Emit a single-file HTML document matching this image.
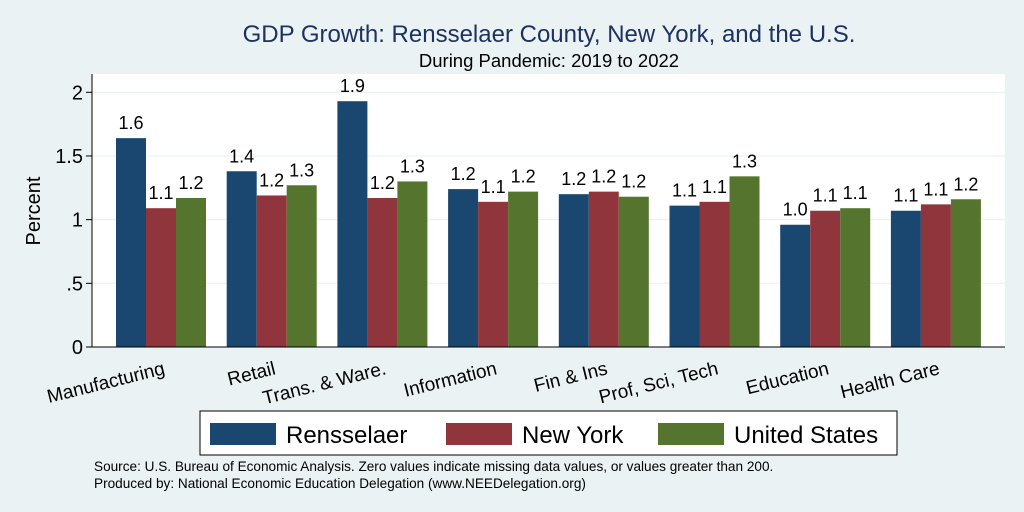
<!DOCTYPE html>
<html><head><meta charset="utf-8"><style>
body{margin:0;background:#eaf2f3;}
svg{display:block;font-family:"Liberation Sans",Arial,sans-serif;}
</style></head><body>
<svg id="c" width="1024" height="512" viewBox="0 0 1024 512">
<rect x="0" y="0" width="1024" height="512" fill="#eaf2f3"/>
<text x="549" y="42" font-size="24" fill="#1e3161" text-anchor="middle">GDP Growth: Rensselaer County, New York, and the U.S.</text>
<text x="549" y="67" font-size="18.5" fill="#000" text-anchor="middle">During Pandemic: 2019 to 2022</text>
<rect x="92" y="74" width="913" height="273" fill="#fff"/>
<g id="grid"></g><g id="bars"></g><g id="axis"></g>
<text transform="translate(40,211) rotate(-90)" font-size="20" text-anchor="middle">Percent</text>
<g>
<rect x="200" y="411" width="697" height="44" fill="#fff" stroke="#000" stroke-width="1"/>
<rect x="210" y="423" width="66" height="22" fill="#1a476f"/>
<text x="286" y="443" font-size="24">Rensselaer</text>
<rect x="446" y="423" width="66" height="22" fill="#90353b"/>
<text x="522" y="443" font-size="24">New York</text>
<rect x="658" y="423" width="66" height="22" fill="#55752f"/>
<text x="734" y="443" font-size="24">United States</text>
</g>
<text x="94" y="471" font-size="13.6">Source: U.S. Bureau of Economic Analysis. Zero values indicate missing data values, or values greater than 200.</text>
<text x="94" y="488" font-size="13.6">Produced by: National Economic Education Delegation (www.NEEDelegation.org)</text>
</svg>
<script>
const categories=["Manufacturing","Retail","Trans. & Ware.","Information","Fin & Ins","Prof, Sci, Tech","Education","Health Care"];
const rensselaer=[1.64,1.38,1.93,1.24,1.20,1.11,0.96,1.07];
const newYork=[1.09,1.19,1.17,1.14,1.22,1.14,1.07,1.12];
const unitedStates=[1.17,1.27,1.30,1.22,1.18,1.34,1.09,1.16];
const yTicks=[0,0.5,1,1.5,2];
const yTickLabels=["0",".5","1","1.5","2"];
const NS="http://www.w3.org/2000/svg";
const y0=347,pxPerUnit=127.35;
function yScale(v){return y0-v*pxPerUnit;}
const groupStart=116,groupStep=110.7,barW=30;
function xScale(i,s){return groupStart+i*groupStep+s*barW;}
function mk(tag,attrs,parent){const e=document.createElementNS(NS,tag);for(const k in attrs)e.setAttribute(k,attrs[k]);parent.appendChild(e);return e;}
const grid=document.getElementById('grid'),bars=document.getElementById('bars'),axis=document.getElementById('axis');
yTicks.forEach((t,i)=>{
  if(t>0){const g=mk('line',{x1:92,x2:1005,y1:yScale(t),y2:yScale(t),stroke:'#eaf2f3','stroke-width':1.2},grid);
  
  }
  const tk=mk('line',{x1:86,x2:92,y1:yScale(t),y2:yScale(t),stroke:'#000'},axis);
  
  
  const tl=mk('text',{x:83,y:yScale(t)+7,'font-size':20,'text-anchor':'end'},axis);
  tl.textContent=yTickLabels[i];
  
  
});
const series=[rensselaer,newYork,unitedStates],colors=["#1a476f","#90353b","#55752f"],snames=["rensselaer","new-york","united-states"];
categories.forEach((c,i)=>{
  series.forEach((arr,s)=>{
    const v=arr[i],x=xScale(i,s);
    const r=mk('rect',{x:x,y:yScale(v),width:barW,height:y0-yScale(v),fill:colors[s]},bars);
    
    
    const t=mk('text',{x:x+barW/2,y:yScale(v)-9,'font-size':18,'text-anchor':'middle'},bars);
    t.textContent=v.toFixed(1);
    
    
  });
  const cx=xScale(i,1.55);
  const cl=mk('text',{transform:`translate(${cx},${y0+14}) rotate(-14)`,'font-size':19,'text-anchor':'end',dy:'0.7em'},axis);
  cl.textContent=c;
  
  
});
const ax=mk('line',{x1:92,x2:92,y1:74,y2:347,stroke:'#000'},axis);


const bx=mk('line',{x1:92,x2:1005,y1:347,y2:347,stroke:'#000'},axis);


</script>
</body></html>
